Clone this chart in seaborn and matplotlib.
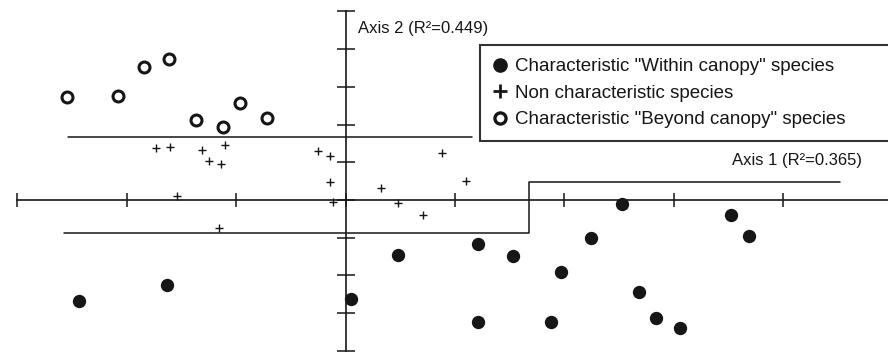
import numpy as np
import pandas as pd
import matplotlib
matplotlib.use("Agg")
import matplotlib.pyplot as plt
from matplotlib.lines import Line2D
import seaborn as sns

# Species scores on the two ordination axes
within_x = [-2.44, -1.63, 0.05, 0.48, 1.21, 1.53, 1.97, 2.24, 2.53, 3.52,
            3.69, 2.68, 2.84, 3.06, 1.21, 1.88]
within_y = [-2.68, -2.25, -2.63, -1.46, -1.16, -1.48, -1.92, -1.01, -0.10, -0.40,
            -0.95, -2.44, -3.12, -3.39, -3.24, -3.24]

non_x = [-1.73, -1.60, -1.31, -1.10, -1.25, -1.14, -0.25, -0.14, -0.14, -0.11,
         0.32, 0.48, 0.71, 0.88, 1.10, -1.54, -1.16]
non_y = [1.39, 1.41, 1.33, 1.47, 1.04, 0.96, 1.31, 1.17, 0.49, -0.05,
         0.33, -0.09, -0.41, 1.24, 0.50, 0.10, -0.75]

beyond_x = [-2.55, -2.08, -1.84, -1.61, -1.37, -1.12, -0.96, -0.72]
beyond_y = [2.72, 2.76, 3.52, 3.73, 2.12, 1.93, 2.58, 2.18]

# group boundaries
upper_x = [-2.54, 1.16]
upper_y = [1.66, 1.66]
lower_x = [-2.57, 1.68, 1.68, 4.52]
lower_y = [-0.87, -0.87, 0.47, 0.47]

x_ticks = [-3, -2, -1, 0, 1, 2, 3, 4]
y_ticks = [-4, -3, -2, -1, 0, 1, 2, 3, 4, 5]

labels = ['Characteristic "Within canopy" species',
          'Non characteristic species',
          'Characteristic "Beyond canopy" species']

within = pd.DataFrame({'x': within_x, 'y': within_y})
non = pd.DataFrame({'x': non_x, 'y': non_y})
beyond = pd.DataFrame({'x': beyond_x, 'y': beyond_y})

sns.set_style('white')
plt.rcParams['font.family'] = ['Liberation Sans', 'DejaVu Sans']

ink = '#161616'
fig = plt.figure(figsize=(8.88, 3.54), dpi=100)
ax = fig.add_axes([0, 0, 1, 1])

sns.scatterplot(data=within, x='x', y='y', ax=ax, marker='o', s=92,
                color=ink, edgecolor=ink, linewidth=0, zorder=3)
sns.scatterplot(data=non, x='x', y='y', ax=ax, marker='+', s=34,
                color=ink, linewidth=1.0, zorder=3)
sns.scatterplot(data=beyond, x='x', y='y', ax=ax, marker='o', s=62,
                facecolor='white', edgecolor=ink, linewidth=2.2, zorder=3)

ax.plot(upper_x, upper_y, color=ink, lw=1.1)
ax.plot(lower_x, lower_y, color=ink, lw=1.1)

ax.set_xlim(-3.158, 4.958)
ax.set_ylim(-4.085, 5.305)

# axes crossing at the origin
for side in ['top', 'right']:
    ax.spines[side].set_visible(False)
ax.spines['left'].set_position(('data', 0))
ax.spines['bottom'].set_position(('data', 0))
ax.spines['left'].set_bounds(-4, 5)
ax.spines['bottom'].set_bounds(-3, 4.958)
for side in ['left', 'bottom']:
    ax.spines[side].set_color(ink)
    ax.spines[side].set_linewidth(1.2)
ax.set_xticks(x_ticks)
ax.set_yticks(y_ticks)
ax.set_xticklabels([])
ax.set_yticklabels([])
ax.tick_params(axis='x', bottom=True, direction='inout', length=9.5,
               width=1.1, color=ink)
ax.tick_params(axis='y', left=True, direction='inout', length=13,
               width=1.1, color=ink)
ax.set_xlabel('')
ax.set_ylabel('')

ax.text(0.117, 4.55, 'Axis 2 (R²=0.449)', fontsize=12, color=ink,
        ha='left', va='center')
ax.text(3.53, 1.06, 'Axis 1 (R²=0.365)', fontsize=12, color=ink,
        ha='left', va='center')

handles = [
    Line2D([], [], ls='none', marker='o', ms=9.5, color=ink, mec=ink),
    Line2D([], [], ls='none', marker='+', ms=10, mew=2, color=ink),
    Line2D([], [], ls='none', marker='o', ms=8, mfc='white', mec=ink, mew=2.4),
]
leg = ax.legend(handles, labels, loc='upper left', mode='expand',
                bbox_to_anchor=(0.540, 0.60, 0.50, 0.273), borderaxespad=0,
                fontsize=13.5, frameon=True, fancybox=False, framealpha=1,
                edgecolor='#333333', borderpad=0.7, labelspacing=0.5,
                handlelength=0.75, handletextpad=0.45)
leg.get_frame().set_linewidth(1.5)
for t in leg.get_texts():
    t.set_color(ink)

fig.savefig('out.png', dpi=100)
